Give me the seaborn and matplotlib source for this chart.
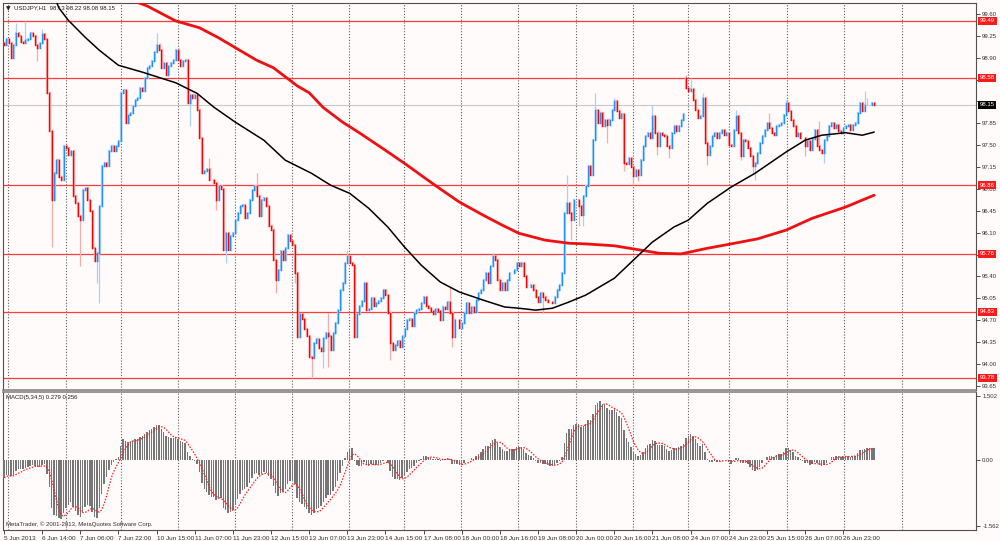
import numpy as np
import pandas as pd
import seaborn as sns
import matplotlib.pyplot as plt
from matplotlib import transforms

# USDJPY H1 closes (5 Jun 22:00 -> 27 Jun 12:00)
closes = [
    99.10, 99.20, 99.13, 98.90, 99.10, 99.30, 99.25, 99.15, 99.13, 99.18,
    99.20, 99.30, 99.25, 99.10, 99.05, 99.13, 99.28, 99.20, 98.33, 97.72,
    96.62, 97.05, 97.26, 96.99, 96.94, 97.48, 97.45, 97.34, 97.40, 96.68,
    96.57, 96.36, 96.30, 96.78, 96.81, 96.62, 96.44, 95.85, 95.64, 95.77,
    96.52, 97.16, 97.21, 97.16, 97.40, 97.48, 97.40, 97.48, 97.56, 98.33,
    98.38, 97.85, 97.98, 98.01, 98.12, 98.22, 98.25, 98.41, 98.36, 98.57,
    98.73, 98.76, 98.85, 98.99, 99.10, 99.02, 98.73, 98.81, 98.62, 98.76,
    98.81, 98.87, 99.02, 98.87, 98.76, 98.84, 98.87, 98.17, 98.30, 98.25,
    98.30, 98.06, 97.61, 97.05, 97.08, 97.12, 96.94, 96.94, 96.89, 96.62,
    96.84, 96.80, 95.82, 96.09, 95.82, 96.04, 96.09, 96.30, 96.41, 96.52,
    96.55, 96.33, 96.41, 96.62, 96.78, 96.84, 96.68, 96.36, 96.62, 96.65,
    96.52, 96.20, 96.15, 95.66, 95.35, 95.50, 95.80, 95.66, 95.86, 96.06,
    95.96, 95.90, 95.45, 94.43, 94.80, 94.72, 94.55, 94.45, 94.11, 94.09,
    94.33, 94.40, 94.25, 94.20, 94.42, 94.49, 94.45, 94.22, 94.49, 94.65,
    94.86, 95.18, 95.29, 95.61, 95.72, 95.61, 95.58, 94.43, 94.80, 94.92,
    95.00, 95.29, 94.86, 94.88, 95.05, 94.92, 94.97, 95.00, 95.05, 95.18,
    95.10, 94.81, 94.33, 94.22, 94.30, 94.36, 94.27, 94.45, 94.55, 94.70,
    94.72, 94.60, 94.81, 94.86, 94.88, 94.97, 95.07, 94.92, 94.90, 94.84,
    94.80, 94.88, 94.85, 94.70, 94.91, 94.88, 94.99, 94.81, 94.43, 94.70,
    94.70, 94.57, 94.65, 94.81, 94.97, 94.81, 94.91, 94.83, 95.02, 95.13,
    95.18, 95.34, 95.45, 95.29, 95.56, 95.72, 95.66, 95.34, 95.18, 95.29,
    95.18, 95.34, 95.45, 95.45, 95.50, 95.61, 95.56, 95.61, 95.40, 95.23,
    95.23, 95.26, 95.18, 95.07, 94.99, 95.13, 95.07, 95.02, 94.99, 94.99,
    94.97, 95.07, 95.18, 95.26, 95.45, 96.41, 96.57, 96.41, 96.30, 96.62,
    96.62, 96.52, 96.38, 96.68, 96.84, 97.16, 97.02, 97.58, 98.06, 97.85,
    98.01, 97.80, 97.90, 97.82, 97.90, 98.06, 98.20, 98.05, 97.93, 98.00,
    97.21, 97.20, 97.30, 97.15, 97.00, 97.10, 97.02, 97.26, 97.48, 97.64,
    97.69, 97.62, 97.96, 97.69, 97.48, 97.69, 97.66, 97.64, 97.48, 97.45,
    97.69, 97.80, 97.72, 97.80, 97.90, 98.00, 98.41, 98.36, 98.40, 98.22,
    98.06, 97.93, 97.96, 98.25, 97.53, 97.34, 97.48, 97.64, 97.69, 97.62,
    97.69, 97.74, 97.66, 97.69, 97.50, 97.48, 97.74, 97.96, 97.69, 97.32,
    97.58, 97.56, 97.45, 97.32, 97.16, 97.21, 97.37, 97.53, 97.64, 97.74,
    97.85, 97.78, 97.69, 97.66, 97.80, 97.82, 97.85, 97.98, 98.17, 98.04,
    97.90, 97.80, 97.64, 97.70, 97.62, 97.62, 97.48, 97.56, 97.42, 97.60,
    97.74, 97.48, 97.42, 97.37, 97.58, 97.64, 97.80, 97.85, 97.78, 97.82,
    97.72, 97.69, 97.78, 97.80, 97.82, 97.74, 97.82, 97.85, 98.01, 98.17,
    98.04, 98.14, 98.14, 98.14, 98.17, 98.15,
]
first_open = 99.13
gap_opens = {286: 98.58}

# long wicks that stand out in the picture
wick_hi = {5: 99.45, 9: 99.49, 16: 99.36, 64: 99.29, 86: 97.29, 106: 97.05,
           136: 94.81, 144: 95.82, 187: 95.23, 205: 95.77, 236: 97.02,
           248: 98.33, 256: 98.25, 272: 98.14, 286: 98.62, 288: 98.57,
           293: 98.33, 307: 98.06, 321: 98.01, 328: 98.23, 342: 97.88,
           361: 98.36, 362: 98.25}
wick_lo = {14: 98.84, 20: 95.87, 32: 95.56, 39: 95.29, 40: 94.97, 78: 97.80,
           89: 96.46, 93: 95.61, 114: 95.13, 122: 95.29, 129: 93.78,
           134: 93.93, 136: 93.95, 147: 94.41, 162: 94.06, 188: 94.27,
           226: 94.81, 238: 95.98, 241: 96.20, 243: 96.20, 253: 97.53,
           260: 97.08, 264: 96.86, 266: 96.92, 274: 97.34, 279: 97.29,
           295: 97.18, 309: 97.26, 314: 97.05, 315: 96.94, 336: 97.32,
           344: 97.21}

# moving averages (bar index, price)
black_ma_x = [22, 23, 27, 34, 40, 48, 58, 72, 81, 88, 97, 109, 118, 129, 137,
              145, 153, 161, 168, 175, 183, 191, 201, 210, 216, 223, 230, 237,
              244, 256, 264, 272, 281, 287, 295, 305, 315, 328, 336, 343, 353,
              360, 365]
black_ma_y = [99.80, 99.70, 99.50, 99.23, 99.02, 98.78, 98.67, 98.50, 98.33,
              98.11, 97.87, 97.58, 97.26, 97.05, 96.86, 96.73, 96.49, 96.19,
              95.87, 95.58, 95.31, 95.15, 95.02, 94.91, 94.89, 94.86, 94.89,
              94.99, 95.10, 95.37, 95.66, 95.95, 96.19, 96.30, 96.57, 96.83,
              97.05, 97.39, 97.58, 97.66, 97.70, 97.66, 97.71]
red_ma_x = [55, 60, 72, 82, 90, 98, 106, 113, 123, 128, 134, 142, 149, 158,
            168, 176, 183, 191, 201, 209, 216, 227, 237, 244, 256, 264, 275,
            284, 295, 305, 316, 328, 339, 353, 365]
red_ma_y = [99.80, 99.73, 99.49, 99.38, 99.22, 99.04, 98.86, 98.74, 98.45,
            98.34, 98.10, 97.87, 97.70, 97.47, 97.21, 96.99, 96.80, 96.59,
            96.38, 96.22, 96.09, 95.98, 95.93, 95.92, 95.89, 95.84, 95.77,
            95.76, 95.85, 95.92, 96.00, 96.14, 96.33, 96.51, 96.70]

levels = [99.49, 98.58, 96.86, 95.76, 94.83, 93.78]
last_price = 98.15
price_ticks = [99.60, 99.25, 98.90, 98.55, 98.20, 97.85, 97.50, 97.15, 96.80,
               96.45, 96.10, 95.75, 95.40, 95.05, 94.70, 94.35, 94.00, 93.65]
hidden_ticks = [98.55, 98.20, 95.75]  # covered by the level boxes
macd_ticks = [1.502, 0.0, -1.562]
macd_first = -0.45  # MACD value at the first visible bar
grid_bars = [1.7, 26.0, 49.0, 72.8, 96.7, 121.0, 144.8, 167.9, 191.7, 215.6,
             239.8, 263.7, 286.7, 304.3, 328.6, 352.5, 376.7]
time_labels = ['5 Jun 2013', '6 Jun 14:00', '7 Jun 06:00', '7 Jun 22:00',
               '10 Jun 15:00', '11 Jun 07:00', '11 Jun 23:00', '12 Jun 15:00',
               '13 Jun 07:00', '13 Jun 23:00', '14 Jun 15:00', '17 Jun 08:00',
               '18 Jun 00:00', '18 Jun 16:00', '19 Jun 08:00', '20 Jun 00:00',
               '20 Jun 16:00', '21 Jun 08:00', '24 Jun 07:00', '24 Jun 23:00',
               '25 Jun 15:00', '26 Jun 07:00', '26 Jun 23:00']
label_step = 16

bg = '#fffbfa'
sns.set_style('white', {'axes.facecolor': bg, 'figure.facecolor': bg})
plt.rcParams['font.family'] = ['Liberation Sans', 'DejaVu Sans']
fs = 4.3
narrow = ['Liberation Sans Narrow', 'Liberation Sans', 'DejaVu Sans']

df = pd.DataFrame({'close': closes})
df['bar'] = np.arange(len(df))
df['open'] = df['close'].shift(1).fillna(first_open)
for k, v in gap_opens.items():
    df.loc[k, 'open'] = v
df['up'] = df['close'] >= df['open']
df['lo'] = df[['open', 'close']].min(axis=1)
df['hi'] = df[['open', 'close']].max(axis=1)

# MACD(5,34,5) like MetaTrader: EMA5 - EMA34, signal = SMA5 of MACD
e5, e34 = closes[0], closes[0] - macd_first
fast, slow = [], []
for c in closes:
    e5 += (c - e5) * 2 / 6
    e34 += (c - e34) * 2 / 35
    fast.append(e5)
    slow.append(e34)
df['macd'] = np.array(fast) - np.array(slow)
df['signal'] = df['macd'].rolling(5, min_periods=1).mean()

fig = plt.figure(figsize=(10, 5.41), dpi=100)
ax = fig.add_axes([0.003, 0.2791, 0.973, 0.7153])
ax2 = fig.add_axes([0.003, 0.0203, 0.973, 0.2551])

x_min, x_max = -0.4, 407.7

# vertical dotted grid
for a in (ax, ax2):
    for g in grid_bars:
        a.axvline(g, color='#606060', lw=0.8, ls=(0, (1, 1.6)), zorder=1)

# levels and current price
for lv in levels:
    ax.axhline(lv, color='#ff3b3b', lw=0.9, zorder=2)
ax.axhline(last_price, color='#c8c8c8', lw=0.8, zorder=1.5)

# candles
colors = {True: ('#1e90ff', '#a9d1f9'), False: ('#ff0000', '#f9aaaa')}
for up, (col, halo) in colors.items():
    d = df[df['up'] == up]
    for b, h in wick_hi.items():
        if bool(df.loc[b, 'up']) == up:
            ax.vlines(b, df.loc[b, 'hi'], h, color=halo, lw=0.9, zorder=3)
    for b, l in wick_lo.items():
        if bool(df.loc[b, 'up']) == up:
            ax.vlines(b, l, df.loc[b, 'lo'], color=halo, lw=0.9, zorder=3)
    hl = ax.vlines(d['bar'] + 0.25, d['lo'], d['hi'], color=halo, lw=1.6,
                   zorder=3)
    hl.set_capstyle('projecting')
    bd = ax.vlines(d['bar'], d['lo'], d['hi'], color=col, lw=1.0, zorder=4)
    bd.set_capstyle('projecting')

sns.lineplot(x=red_ma_x, y=red_ma_y, ax=ax, color='#ee1111', lw=2.0,
             estimator=None, zorder=5)
sns.lineplot(x=black_ma_x, y=black_ma_y, ax=ax, color='black', lw=1.1,
             estimator=None, zorder=5)

ax.set_xlim(x_min, x_max)
ax.set_ylim(93.581, 99.776)
ax.set_xticks([])
ax.yaxis.tick_right()
ax.set_yticks(price_ticks)
ax.set_yticklabels(['' if t in hidden_ticks else f'{t:.2f}'
                    for t in price_ticks])
ax.tick_params(axis='y', labelsize=fs, length=3, width=0.6, pad=1.5,
               colors='#303030', right=True)
for s in ('left', 'top', 'right'):
    ax.spines[s].set_color('#505050')
    ax.spines[s].set_linewidth(0.8)
ax.spines['bottom'].set_color('#7a7a7a')
ax.spines['bottom'].set_linewidth(1.1)

trans = transforms.blended_transform_factory(ax.transAxes, ax.transData)
for lv in levels:
    ax.text(1.004, lv, f'{lv:.2f}', transform=trans, fontsize=fs,
            color='white', va='center', ha='left', clip_on=False, zorder=10,
            bbox=dict(boxstyle='square,pad=0.25', fc='#ff1a1a', ec='none'))
ax.text(1.004, last_price, f'{last_price:.2f}', transform=trans, fontsize=fs,
        color='white', va='center', ha='left', clip_on=False, zorder=10,
        bbox=dict(boxstyle='square,pad=0.25', fc='black', ec='none'))

ax.text(0.003, 0.992, '\u25bc', transform=ax.transAxes, fontsize=fs,
        family='DejaVu Sans', color='#202020', va='top', ha='left', zorder=10)
ax.text(0.011, 0.993, 'USDJPY,H1  98.13 98.22 98.08 98.15',
        transform=ax.transAxes, fontsize=fs, color='#202020',
        va='top', ha='left', zorder=10)

# MACD panel
ax2.bar(df['bar'], df['macd'], width=0.6, color='#767676', lw=0, zorder=3)
sns.lineplot(x=df['bar'], y=df['signal'], ax=ax2, color='#ff2020', lw=0.9,
             ls=(0, (1.2, 1.2)), estimator=None, zorder=4)
ax2.set_xlim(x_min, x_max)
ax2.set_ylim(-1.661, 1.595)
ax2.yaxis.tick_right()
ax2.set_yticks(macd_ticks)
ax2.set_yticklabels(['1.502', '0.00', '-1.562'])
ax2.tick_params(axis='y', labelsize=fs, length=3, width=0.6, pad=1.5,
                colors='#303030', right=True)
tick_pos = np.arange(len(time_labels)) * label_step
ax2.set_xticks(tick_pos)
ax2.set_xticklabels(time_labels, ha='left', family=narrow, fontsize=fs + 0.3)
ax2.tick_params(axis='x', length=3, width=0.6, pad=1,
                colors='#303030', bottom=True)
ax2.set_xlabel('')
ax2.set_ylabel('')
ax.set_xlabel('')
ax.set_ylabel('')
for s in ('left', 'bottom', 'right'):
    ax2.spines[s].set_color('#505050')
    ax2.spines[s].set_linewidth(0.8)
ax2.spines['top'].set_color('#7a7a7a')
ax2.spines['top'].set_linewidth(1.1)

ax2.text(0.003, 0.975, 'MACD(5,34,5) 0.279 0.256', transform=ax2.transAxes,
         fontsize=fs, color='#202020', va='top', ha='left', zorder=10)
ax2.text(0.003, 0.025, 'MetaTrader, \u00a9 2001-2013, MetaQuotes Software Corp.',
         transform=ax2.transAxes, fontsize=fs, color='#303030',
         va='bottom', ha='left', zorder=10)

fig.savefig('out.png', dpi=100, facecolor=bg)
